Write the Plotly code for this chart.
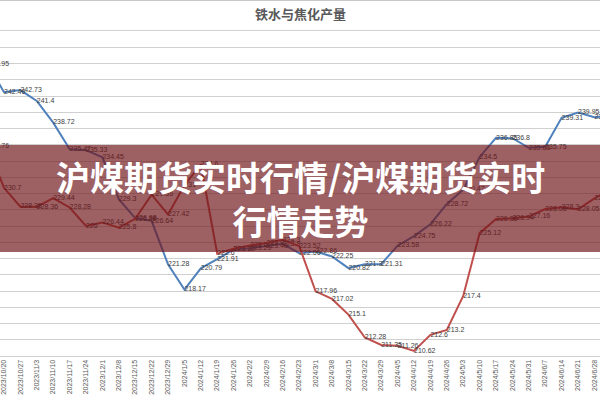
import plotly.graph_objects as go

dates = ["2023/10/13", "2023/10/20", "2023/10/27", "2023/11/3", "2023/11/10", "2023/11/17",
         "2023/11/24", "2023/12/1", "2023/12/8", "2023/12/15", "2023/12/22", "2023/12/29",
         "2024/1/5", "2024/1/12", "2024/1/19", "2024/1/26", "2024/2/2", "2024/2/9",
         "2024/2/16", "2024/2/23", "2024/3/1", "2024/3/8", "2024/3/15", "2024/3/22",
         "2024/3/29", "2024/4/5", "2024/4/12", "2024/4/19", "2024/4/26", "2024/5/3",
         "2024/5/10", "2024/5/17", "2024/5/24", "2024/5/31", "2024/6/7", "2024/6/14",
         "2024/6/21", "2024/6/28", "2024/7/5"]

iron = [245.95, 242.46, 242.73, 241.4, 238.72, 235.47, 235.33, 234.45, 229.3, 226.98,
        226.64, 221.28, 218.17, 220.79, 221.91, 223.12, 223.25, 223.48, 223.8, 222.66,
        222.86, 222.25, 220.82, 221.3, 221.31, 223.58, 224.75, 226.22, 228.72, 230.47,
        234.5, 236.85, 236.8, 235.63, 235.75, 239.31, 239.95, 239.4, 239.5]

coke = [235.76, 230.7, 228.38, 228.36, 229.44, 228.28, 226.0, 226.44, 225.8, 226.88,
        229.86, 227.42, 231.0, 233.6, 222.6, 223.2, 223.6, 223.9, 224.3, 223.52,
        217.96, 217.02, 215.1, 212.28, 211.35, 211.26, 210.62, 212.6, 213.2, 217.4,
        225.12, 226.86, 226.94, 227.16, 228.08, 228.3, 228.05, 229.4, 230.5]

title_text = "铁水与焦化产量"
banner_text = "沪煤期货实时行情/沪煤期货实时<br>行情走势"

W, H = 600, 400
T, B = 31, 44
plot_h = H - T - B


def py(px):
    # pixel row -> paper y
    return (H - B - px) / plot_h


def lbl(v):
    return f"{v:g}"


fig = go.Figure()
fig.add_trace(go.Scatter(
    x=dates, y=iron, mode="lines+text", name="铁水",
    line=dict(color="#4F81BD", width=2),
    text=[lbl(v) for v in iron], textposition="middle right",
    textfont=dict(size=7, color="#404040", family="Liberation Sans"),
    cliponaxis=True,
))
fig.add_trace(go.Scatter(
    x=dates, y=coke, mode="lines+text", name="焦化",
    line=dict(color="#C0504D", width=2),
    text=[lbl(v) for v in coke], textposition="middle right",
    textfont=dict(size=7, color="#404040", family="Liberation Sans"),
    cliponaxis=True,
))

fig.update_layout(
    width=W, height=H,
    margin=dict(l=0, r=0, t=T, b=B, pad=0),
    paper_bgcolor="white", plot_bgcolor="white",
    showlegend=False,
    xaxis=dict(
        type="category", range=[0.756, 37.34],
        tickmode="array", tickvals=dates, ticktext=dates,
        tickangle=-90, tickfont=dict(size=7, color="#595959", family="Liberation Sans"),
        showgrid=False, showline=True, linecolor="#D0D0D0", linewidth=1, mirror=True,
        ticks="",
    ),
    yaxis=dict(
        range=[210, 250], dtick=2, showticklabels=False,
        showgrid=True, gridcolor="#D0D0D0", gridwidth=1, zeroline=False,
    ),
    shapes=[
        dict(type="line", xref="paper", yref="paper", x0=0, x1=1, y0=py(0.5), y1=py(0.5),
             line=dict(color="#C8C8C8", width=1)),
        dict(type="rect", xref="paper", yref="paper", x0=0, x1=1, y0=py(252), y1=py(145),
             fillcolor="rgba(110,20,25,0.68)", line=dict(width=0), layer="above"),
    ],
    annotations=[
        dict(text="<b>" + title_text + "</b>", xref="paper", yref="paper", x=0.5, y=py(14),
             xanchor="center", yanchor="middle", showarrow=False,
             font=dict(size=13, color="#595959", family="Noto Sans CJK SC")),
        dict(text="<b>" + banner_text + "</b>", xref="paper", yref="paper", x=0.5, y=py(198),
             xanchor="center", yanchor="middle", showarrow=False, align="center",
             font=dict(size=34, color="white", family="Noto Sans CJK SC")),
    ],
)

fig.write_html("out.html", config={"displayModeBar": False},
               post_script="document.body.style.margin='0';")
